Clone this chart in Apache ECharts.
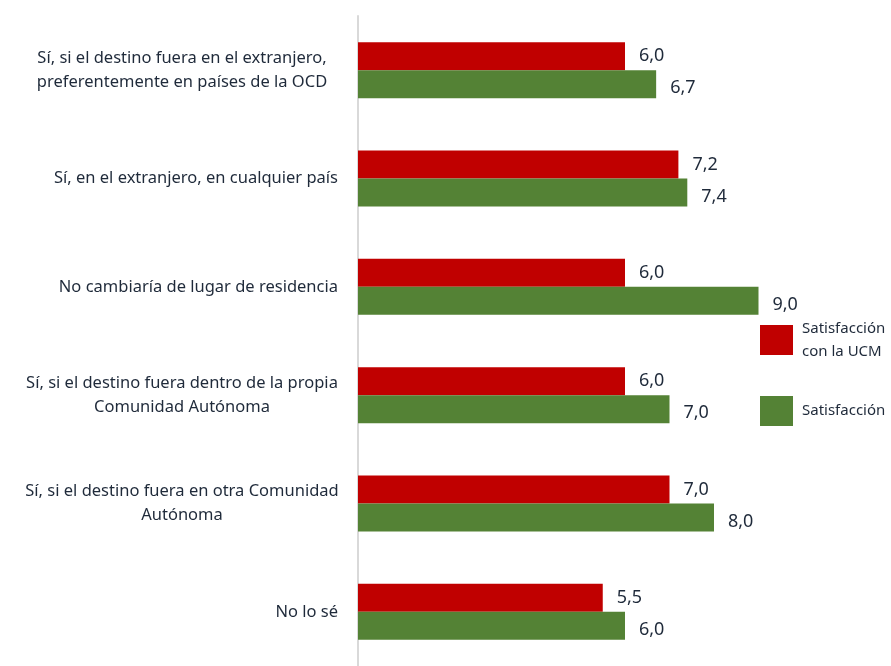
<!DOCTYPE html>
<html>
<head>
<meta charset="utf-8">
<script src="https://cdn.jsdelivr.net/npm/echarts@6/dist/echarts.min.js"></script>
<style>
  html, body { margin: 0; padding: 0; background: #fff; }
  #main { width: 891px; height: 666px; }
</style>
</head>
<body>
<div id="main"></div>
<script>
const categories = [
    "Sí, si el destino fuera en el extranjero,\npreferentemente en países de la OCD",
    "Sí, en el extranjero, en cualquier país",
    "No cambiaría de lugar de residencia",
    "Sí, si el destino fuera dentro de la propia\nComunidad Autónoma",
    "Sí, si el destino fuera en otra Comunidad\nAutónoma",
    "No lo sé"
];
const ucmValues = [6.0, 7.2, 6.0, 6.0, 7.0, 5.5];
const satValues = [6.7, 7.4, 9.0, 7.0, 8.0, 6.0];
const seriesNames = ["Satisfacción\ncon la UCM", "Satisfacción"];

const textColor = "#1f2a3a";
const fontFamily = "'Noto Sans', sans-serif";

function fmt(p) {
    return p.value.toFixed(1).replace(".", ",");
}

// multi-line labels are centred inside their block, single-line ones right aligned
function catLabel(v) {
    const lines = v.split("\n");
    if (lines.length === 1) return "{r|" + v + "}";
    return lines.map(l => "{m|" + l + "}").join("\n");
}

function labelStyle(dy) {
    return {
        show: true,
        position: "right",
        distance: 14,
        offset: [0, dy],
        formatter: fmt,
        color: textColor,
        fontSize: 18,
        fontFamily: fontFamily
    };
}

myChart = echarts.init(document.getElementById("main"));
myChart.setOption({
    animation: false,
    grid: { left: 358, top: 16, width: 445, height: 658 },
    legend: {
        orient: "vertical",
        left: 755,
        top: 312,
        itemWidth: 33,
        itemHeight: 30,
        itemGap: 33,
        icon: "rect",
        textStyle: { color: textColor, fontSize: 15, lineHeight: 23, fontFamily: fontFamily, padding: [0, 0, 0, 4] },
        data: seriesNames
    },
    xAxis: {
        type: "value",
        min: 0,
        max: 10,
        show: false
    },
    yAxis: {
        type: "category",
        inverse: true,
        data: categories,
        axisLine: { show: true, lineStyle: { color: "#d9d9d9", width: 2 } },
        axisTick: { show: false },
        axisLabel: {
            margin: 20,
            formatter: catLabel,
            color: textColor,
            fontSize: 16.5,
            fontFamily: fontFamily,
            lineHeight: 24,
            rich: {
                m: { width: 312, align: "center", color: textColor, fontSize: 16.5, fontFamily: fontFamily, lineHeight: 24 },
                r: { color: textColor, fontSize: 16.5, fontFamily: fontFamily }
            }
        }
    },
    series: [
        {
            name: seriesNames[0],
            type: "bar",
            data: ucmValues,
            barWidth: 28,
            barGap: "0%",
            itemStyle: { color: "#c00000" },
            label: labelStyle(0)
        },
        {
            name: seriesNames[1],
            type: "bar",
            data: satValues,
            barWidth: 28,
            barGap: "0%",
            itemStyle: { color: "#548235" },
            label: labelStyle(4)
        }
    ]
});
</script>
</body>
</html>
